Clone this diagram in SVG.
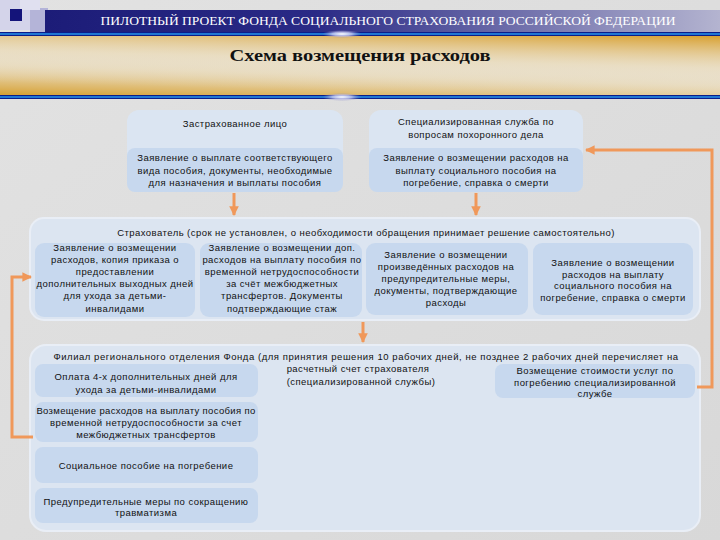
<svg xmlns="http://www.w3.org/2000/svg" width="720" height="540" viewBox="0 0 720 540">
<defs>
<linearGradient id="bar" x1="0" y1="0" x2="1" y2="0">
<stop offset="0" stop-color="#1c1c78"/>
<stop offset="0.4" stop-color="#2a2a86"/>
<stop offset="1" stop-color="#b4b4d0"/>
</linearGradient>
<linearGradient id="goldBL" x1="0" y1="1" x2="0.35" y2="0">
<stop offset="0" stop-color="#d6a032"/>
<stop offset="0.45" stop-color="#e8d2a0" stop-opacity="0.6"/>
<stop offset="1" stop-color="#eaeaea" stop-opacity="0"/>
</linearGradient>
<linearGradient id="goldTR" x1="1" y1="0" x2="0.7" y2="1">
<stop offset="0" stop-color="#d8a030"/>
<stop offset="0.5" stop-color="#ead6a8" stop-opacity="0.5"/>
<stop offset="1" stop-color="#eaeaea" stop-opacity="0"/>
</linearGradient>
<linearGradient id="bg" x1="0" y1="0" x2="1" y2="1">
<stop offset="0" stop-color="#e2e2e2"/>
<stop offset="1" stop-color="#d8d8d8"/>
</linearGradient>
<radialGradient id="glow" cx="0.5" cy="0.5" r="0.5">
<stop offset="0" stop-color="#ffffff"/>
<stop offset="0.5" stop-color="#c8c8f0" stop-opacity="0.8"/>
<stop offset="1" stop-color="#8080c0" stop-opacity="0"/>
</radialGradient>
<marker id="ah" viewBox="0 0 10 10" refX="9" refY="5" markerWidth="3.2" markerHeight="3.2" orient="auto" markerUnits="strokeWidth">
<path d="M0,0 L10,5 L0,10 z" fill="#f0985a"/>
</marker>
</defs>
<style>
.t{font-family:"Liberation Sans","DejaVu Sans",sans-serif;font-size:9.5px;fill:#111;text-anchor:middle;letter-spacing:0.45px}
.outer{fill:#dce5f1;stroke:#e9eef6;stroke-width:2}
.inner{fill:#c7d8ee}
.top{fill:#dbe5f2}
.conn{fill:none;stroke:#f0985a;stroke-width:3}
</style>
<rect width="720" height="540" fill="url(#bg)"/>

<g id="header">
<rect x="0" y="0" width="30" height="30" fill="#d4d4ea"/>
<rect x="30" y="8" width="18" height="24" fill="#b4b4d8"/>
<rect x="20" y="0" width="20" height="10" fill="#e0e0f0"/>
<rect x="10" y="9" width="12" height="12" fill="#14147a"/>
<rect x="45" y="10" width="675" height="22" fill="url(#bar)"/>
<text x="388" y="25" font-family="Liberation Serif, serif" font-size="12" fill="#ffffff" text-anchor="middle" textLength="575" lengthAdjust="spacingAndGlyphs">ПИЛОТНЫЙ ПРОЕКТ ФОНДА СОЦИАЛЬНОГО СТРАХОВАНИЯ РОССИЙСКОЙ ФЕДЕРАЦИИ</text>
<rect x="0" y="32" width="720" height="4" fill="#0a1e8c"/>
<rect x="0" y="33.3" width="720" height="1.4" fill="#2a9cf0"/>
<rect x="0" y="36" width="720" height="59" fill="#e8e8ea"/>
<rect x="0" y="36" width="720" height="59" fill="url(#goldBL)"/>
<rect x="0" y="36" width="720" height="59" fill="url(#goldTR)"/>
<rect x="0" y="95" width="720" height="4" fill="#0a1e8c"/>
<rect x="0" y="96.3" width="720" height="1.4" fill="#2a9cf0"/>
<ellipse cx="342" cy="34" rx="20" ry="4" fill="url(#glow)"/>
<ellipse cx="342" cy="97" rx="20" ry="4" fill="url(#glow)"/>
<text x="360" y="61" font-family="Liberation Serif, serif" font-size="17" font-weight="bold" fill="#111" text-anchor="middle" textLength="261" lengthAdjust="spacingAndGlyphs">Схема возмещения расходов</text>
</g>

<g id="insured">
<rect class="top" x="127" y="110" width="216" height="82" rx="12"/>
<rect class="inner" x="127" y="148" width="216" height="44" rx="8"/>
<text class="t" x="235" y="127">Застрахованное лицо</text>
<text class="t" x="235" y="161">Заявление о выплате соответствующего</text>
<text class="t" x="235" y="174">вида пособия, документы, необходимые</text>
<text class="t" x="235" y="186">для назначения и выплаты пособия</text>
</g>

<g id="funeral-service">
<rect class="top" x="369" y="110" width="214" height="82" rx="12"/>
<rect class="inner" x="369" y="148" width="214" height="44" rx="8"/>
<text class="t" x="476" y="125">Специализированная служба по</text>
<text class="t" x="476" y="138">вопросам похоронного дела</text>
<text class="t" x="476" y="161">Заявление о возмещении расходов на</text>
<text class="t" x="476" y="174">выплату социального пособия на</text>
<text class="t" x="476" y="186">погребение, справка о смерти</text>
</g>

<g id="insurer">
<rect class="outer" x="30" y="218" width="670" height="102" rx="14"/>
<text class="t" x="366" y="236">Страхователь (срок не установлен, о необходимости обращения принимает решение самостоятельно)</text>
<rect class="inner" x="35" y="243" width="160" height="74" rx="9"/>
<text class="t" x="115" y="251">Заявление о возмещении</text>
<text class="t" x="115" y="263">расходов, копия приказа о</text>
<text class="t" x="115" y="275">предоставлении</text>
<text class="t" x="115" y="287">дополнительных выходных дней</text>
<text class="t" x="115" y="299">для ухода за детьми-</text>
<text class="t" x="115" y="312">инвалидами</text>
<rect class="inner" x="200" y="243" width="162" height="74" rx="9"/>
<text class="t" x="282" y="251">Заявление о возмещении доп.</text>
<text class="t" x="282" y="263">расходов на выплату пособия по</text>
<text class="t" x="282" y="275">временной нетрудоспособности</text>
<text class="t" x="282" y="287">за счёт межбюджетных</text>
<text class="t" x="282" y="299">трансфертов. Документы</text>
<text class="t" x="282" y="312">подтверждающие стаж</text>
<rect class="inner" x="366" y="243" width="162" height="72" rx="9"/>
<text class="t" x="446" y="258">Заявление о возмещении</text>
<text class="t" x="446" y="270">произведённых расходов на</text>
<text class="t" x="446" y="282">предупредительные меры,</text>
<text class="t" x="446" y="294">документы, подтверждающие</text>
<text class="t" x="446" y="306">расходы</text>
<rect class="inner" x="533" y="243" width="160" height="72" rx="9"/>
<text class="t" x="613" y="266">Заявление о возмещении</text>
<text class="t" x="613" y="278">расходов на выплату</text>
<text class="t" x="613" y="289">социального пособия на</text>
<text class="t" x="613" y="301">погребение, справка о смерти</text>
</g>

<g id="branch">
<rect class="outer" x="30" y="345" width="670" height="186" rx="16"/>
<text class="t" x="366" y="360" style="letter-spacing:0.55px">Филиал регионального отделения Фонда (для принятия решения 10 рабочих дней, не позднее 2 рабочих дней перечисляет на</text>
<text class="t" x="358" y="372">расчетный счет страхователя</text>
<text class="t" x="361" y="385">(специализированной службы)</text>
<rect class="inner" x="35" y="364" width="223" height="33" rx="8"/>
<text class="t" x="146" y="380">Оплата 4-х дополнительных дней для</text>
<text class="t" x="146" y="393">ухода за детьми-инвалидами</text>
<rect class="inner" x="35" y="402" width="223" height="40" rx="8"/>
<text class="t" x="146" y="414" style="letter-spacing:0.35px">Возмещение расходов на выплату пособия по</text>
<text class="t" x="146" y="426">временной нетрудоспособности за счет</text>
<text class="t" x="146" y="438">межбюджетных трансфертов</text>
<rect class="inner" x="35" y="447" width="223" height="36" rx="8"/>
<text class="t" x="146" y="469">Социальное пособие на погребение</text>
<rect class="inner" x="35" y="488" width="223" height="35" rx="8"/>
<text class="t" x="146" y="505">Предупредительные меры по сокращению</text>
<text class="t" x="146" y="516">травматизма</text>
<rect class="inner" x="495" y="364" width="200" height="34" rx="8"/>
<text class="t" x="595" y="374">Возмещение стоимости услуг по</text>
<text class="t" x="595" y="386">погребению специализированной</text>
<text class="t" x="595" y="397">службе</text>
</g>

<g id="connectors">
<path class="conn" d="M234,193 V215" marker-end="url(#ah)"/>
<path class="conn" d="M476,193 V215" marker-end="url(#ah)"/>
<path class="conn" d="M363,322 V342" marker-end="url(#ah)"/>
<path class="conn" d="M33,437 H12 V277 H31" marker-end="url(#ah)"/>
<path class="conn" d="M697,387 H712 V150 H586" marker-end="url(#ah)"/>
</g>
</svg>
